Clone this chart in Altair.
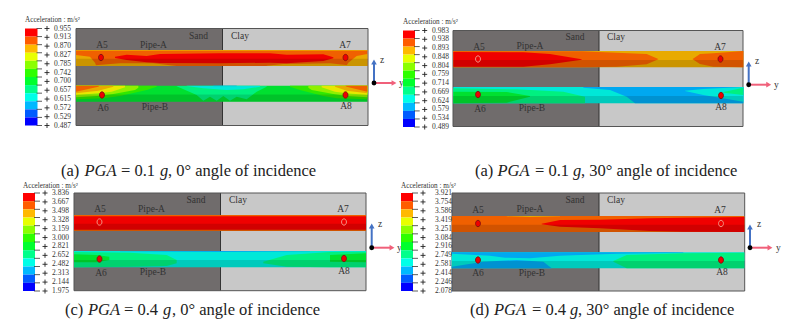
import altair as alt
import pandas as pd

FONT = "Liberation Serif"
R, O, G, Y, LG, G1, G2, SG, CY, LB, BL = ("#f00000", "#f06000", "#e8aa00", "#e8e800", "#90f000",
                                         "#30e800", "#00e030", "#00f080", "#00e8d8", "#00a8f0", "#0060f0")
LEGEND_COLORS = ["#ff0000", "#ff5c00", "#ffb900", "#e8ff00", "#8bff00", "#2eff00",
                 "#00ff2e", "#00ff8b", "#00ffe8", "#00b9ff", "#005cff", "#0000ff"]
PANEL_NAMES = ["a", "b", "c", "d"]
LEGEND_LABELS = {
    "a": ["0.955", "0.913", "0.870", "0.827", "0.785", "0.742", "0.700", "0.657", "0.615", "0.572", "0.529", "0.487"],
    "b": ["0.983", "0.938", "0.893", "0.848", "0.804", "0.759", "0.714", "0.669", "0.624", "0.579", "0.534", "0.489"],
    "c": ["3.836", "3.667", "3.498", "3.328", "3.159", "3.000", "2.821", "2.652", "2.482", "2.313", "2.144", "1.975"],
    "d": ["3.921", "3.754", "3.586", "3.419", "3.251", "3.084", "2.916", "2.749", "2.581", "2.414", "2.246", "2.078"],
}
# legend: x0, x1, y0, y1, plus x, label x, title y
LEGEND_GEOM = {"a": (25, 37.5, 28.5, 125.5, 47, 54, 20), "b": (403, 415, 30.5, 127, 424.7, 432, 22),
               "c": (23, 35, 193, 291, 45, 52, 185.5), "d": (401, 413, 193, 291, 423, 435, 185.5)}
# soil box: x0, divider, x1, y0, y1
BOX = {"a": (76, 222.5, 368, 28.5, 125.5), "b": (453, 599, 743, 30.5, 126.5),
       "c": (74, 220.5, 366, 193, 290.7), "d": (452, 599, 744.7, 193, 291)}
# pipe bands: A top, A bottom, B top, B bottom
PIPES = {"a": (50, 66, 85.7, 101.7), "b": (51, 67.3, 87, 103.3),
         "c": (215, 231, 251, 267.3), "d": (216, 232, 252.3, 268.3)}
ORIGIN = {"a": (70, 40), "b": (450, 40), "c": (70, 205), "d": (450, 205)}

# contour regions: colour and (position, top, bottom) read at 3x from the picture
SHAPES = {
    "a": [
        (O, [(18, 30, 78), (892, 30, 78)]),
        (G, [(18, 30, 32), (892, 30, 32)]),
        (G, [(18, 45, 78), (60, 50, 78), (75, 68, 78), (78, 76, 78)]),
        (G, [(892, 42, 78), (860, 48, 78), (835, 68, 78), (830, 76, 78)]),
        (G, [(75, 76, 78), (150, 70, 78), (250, 70, 78), (300, 76, 78), (320, 78, 78)]),
        (G, [(590, 77, 78), (640, 72, 78), (780, 70, 78), (835, 76, 78)]),
        (R, [(135, 50, 54), (170, 44, 60), (230, 48, 67), (270, 42, 69), (450, 40, 70), (600, 40, 68),
             (650, 44, 70), (760, 43, 63), (790, 52, 55)]),
        (G2, [(18, 137, 185), (892, 137, 185)]),
        (G1, [(18, 137, 178), (100, 137, 175), (150, 137, 168), (230, 137, 150), (260, 137, 140)]),
        (LG, [(18, 137, 172), (80, 137, 168), (130, 137, 162), (195, 137, 150), (205, 137, 143)]),
        (Y, [(18, 137, 165), (85, 137, 160), (125, 137, 155), (165, 137, 142)]),
        (G, [(18, 137, 160), (85, 137, 152), (130, 137, 140)]),
        (O, [(18, 137, 155), (85, 137, 140), (88, 137, 137)]),
        (G1, [(892, 137, 178), (800, 137, 175), (760, 137, 168), (690, 137, 150), (660, 137, 140)]),
        (LG, [(892, 137, 172), (830, 137, 168), (790, 137, 162), (725, 137, 150), (715, 137, 143)]),
        (Y, [(892, 137, 165), (830, 137, 160), (795, 137, 155), (755, 137, 142)]),
        (G, [(892, 137, 160), (830, 137, 152), (795, 137, 140)]),
        (O, [(892, 137, 155), (830, 137, 140), (826, 137, 137)]),
        (SG, [(320, 138, 139), (380, 138, 165), (400, 138, 182), (420, 138, 170), (440, 138, 182),
              (460, 138, 168), (480, 138, 182), (500, 138, 170), (530, 138, 178), (560, 138, 155), (590, 138, 140)]),
        (CY, [(350, 137, 138), (400, 137, 145), (470, 137, 150), (520, 137, 148), (570, 137, 140)]),
        (LB, [(430, 137, 138.5), (500, 137, 138.5)]),
    ],
    "b": [
        (G, [(10, 33, 82), (880, 33, 82)]),
        (O, [(10, 33, 82), (395, 34, 82), (500, 38, 80), (590, 42, 73), (625, 57, 58)]),
        (O, [(728, 57, 58), (750, 42, 72), (790, 40, 80), (880, 33, 82)]),
        (R, [(10, 36, 80), (220, 37, 80), (300, 42, 73), (395, 58, 59)]),
        (CY, [(10, 141, 190), (880, 141, 190)]),
        (SG, [(10, 145, 190), (200, 148, 190), (340, 155, 190), (405, 170, 190)]),
        (G2, [(10, 155, 190), (170, 156, 188), (240, 168, 170)]),
        (LB, [(400, 141, 143), (480, 141, 150), (530, 141, 170), (555, 141, 190), (880, 141, 190)]),
        (CY, [(705, 152, 153), (760, 147, 165), (880, 141, 185)]),
        (SG, [(820, 156, 158), (880, 143, 165)]),
    ],
    "c": [
        (O, [(12, 30, 78), (888, 30, 78)]),
        (R, [(12, 34, 74), (888, 34, 74)]),
        (CY, [(12, 138, 187), (888, 138, 187)]),
        (LB, [(150, 138, 139), (450, 138, 141), (720, 138, 139)]),
        (SG, [(12, 141, 187), (180, 143, 185), (290, 150, 183), (320, 165, 175)]),
        (SG, [(580, 170, 175), (650, 150, 185), (780, 141, 187), (888, 140, 187)]),
        (G2, [(12, 148, 172), (80, 150, 172), (118, 155, 165)]),
        (G2, [(780, 150, 170), (888, 145, 172)]),
    ],
    "d": [
        (O, [(5, 33, 81), (883, 33, 81)]),
        (G, [(170, 33, 34), (240, 33, 36), (330, 33, 34)]),
        (R, [(275, 56, 58), (330, 45, 65), (450, 44, 70), (600, 40, 78), (700, 38, 80), (883, 36, 81)]),
        (CY, [(5, 142, 190), (883, 142, 190)]),
        (LB, [(5, 142, 146), (120, 142, 152), (165, 142, 158), (240, 142, 160), (330, 142, 152), (500, 142, 146), (700, 142, 143)]),
        (LB, [(5, 185, 190), (100, 170, 190), (200, 165, 190), (280, 170, 190), (305, 190, 190)]),
        (SG, [(490, 168, 170), (530, 150, 190), (700, 145, 190), (883, 143, 190)]),
    ],
}
# sensors: x, y, ring colour
MARKERS = {
    "a": [(101, 57.5, "#801010"), (345.5, 57.5, "#801010"), (102, 95, "#801010"), (345.5, 95, "#801010")],
    "b": [(478, 59, "#f0a090"), (720.5, 59, "#801010"), (478, 94.5, "#801010"), (721, 95.5, "#801010")],
    "c": [(99.5, 222, "#f0a090"), (344, 222, "#f0a090"), (99.5, 259, "#801010"), (344, 258.5, "#801010")],
    "d": [(478, 223.5, "#801010"), (721, 223.5, "#f0a090"), (478, 260, "#801010"), (721, 260, "#801010")],
}
LABEL_NAMES = ["A5", "Pipe-A", "Sand", "Clay", "A7", "A6", "Pipe-B", "A8"]
LABEL_POS = {
    "a": [(102, 45), (153.5, 45), (198.5, 35.5), (240, 36), (345, 45), (103, 108), (155, 107), (346, 106)],
    "b": [(479, 47), (530, 46), (575, 37), (616, 37), (720, 47), (480, 109), (532, 108), (721, 107)],
    "c": [(100, 209), (151.5, 209), (196, 200), (238, 200), (343, 209), (101, 273), (153, 272), (344, 271)],
    "d": [(478, 210), (530, 209), (575, 200), (616, 200), (720, 210), (478, 273), (532, 273), (722, 272)],
}
# axis triad: origin x, origin y, arrow top, arrow tip, z text x, z text y, y text x
TRIAD = {"a": (374, 83, 60, 396, 380, 60, 399), "b": (748.7, 84.7, 62, 770.7, 755, 61, 774),
         "c": (371.7, 247.7, 224, 394, 378, 224, 397), "d": (750, 247.7, 225, 772, 757, 224, 776)}
CAPTIONS = [
    (176, [(61, "(a)", "normal"), (84.5, "PGA", "italic"), (121, "= 0.1", "normal"), (160, "g", "italic"),
           (168, ", 0° angle of incidence", "normal")]),
    (176, [(475, "(a)", "normal"), (497.5, "PGA", "italic"), (535, "= 0.1", "normal"), (573, "g", "italic"),
           (581, ", 30° angle of incidence", "normal")]),
    (315, [(65, "(c)", "normal"), (88, "PGA", "italic"), (124, "= 0.4", "normal"), (163, "g", "italic"),
           (172, ", 0° angle of incidence", "normal")]),
    (315, [(470, "(d)", "normal"), (494, "PGA", "italic"), (532, "= 0.4", "normal"), (570, "g", "italic"),
           (578, ", 30° angle of incidence", "normal")]),
]
ELLIPSE = "M0,-1 A0.78,1 0 1,1 0,1 A0.78,1 0 1,1 0,-1 Z"

xs = alt.Scale(domain=[8, 794], nice=False, zero=False)
ys = alt.Scale(domain=[324, 8], nice=False, zero=False)
X = alt.X("x:Q", scale=xs, axis=None)
Y_ = alt.Y("y:Q", scale=ys, axis=None)


def rect(x0, x1, y0, y1, color, opacity=1.0):
    return alt.Chart(pd.DataFrame([{"x": x0, "x2": x1, "y": y0, "y2": y1}])).mark_rect(
        color=color, opacity=opacity, strokeWidth=0).encode(X, alt.X2("x2:Q"), Y_, alt.Y2("y2:Q"))


def segs(rows, color, width=1.0):
    return alt.Chart(pd.DataFrame(rows, columns=["x", "x2", "y", "y2"])).mark_rule(
        color=color, strokeWidth=width).encode(X, alt.X2("x2:Q"), Y_, alt.Y2("y2:Q"))


def texts(rows, size, color="#333333", style="normal", align="center", baseline="middle"):
    return alt.Chart(pd.DataFrame(rows, columns=["x", "y", "t"])).mark_text(
        font=FONT, fontSize=size, color=color, fontStyle=style, align=align, baseline=baseline
    ).encode(X, Y_, text="t:N")


layers = []
for p in PANEL_NAMES:
    bx0, bdiv, bx1, by0, by1 = BOX[p]
    layers.append(rect(bx0, bdiv, by0, by1, "#706c6c"))
    layers.append(rect(bdiv, bx1, by0, by1, "#c8c8c8"))
    layers.append(segs([(bdiv, bdiv, by0, by1)], "#333333", 1))
    layers.append(alt.Chart(pd.DataFrame([{"x": bx0, "x2": bx1, "y": by0, "y2": by1}])).mark_rect(
        fill=None, stroke="#555555", strokeWidth=1).encode(X, alt.X2("x2:Q"), Y_, alt.Y2("y2:Q")))
    ox, oy = ORIGIN[p]
    for color, pts in SHAPES[p]:
        df = pd.DataFrame([{"x": ox + a / 3, "y": oy + b / 3, "y2": oy + c / 3} for a, b, c in pts])
        layers.append(alt.Chart(df).mark_area(color=color, opacity=1, interpolate="linear", strokeWidth=0)
                      .encode(X, Y_, alt.Y2("y2:Q")))
    at, ab, bt, bb = PIPES[p]
    layers.append(rect(bx0, bx1, at + 0.55 * (ab - at), ab, "#000000", 0.13))
    layers.append(rect(bx0, bx1, bt + 0.55 * (bb - bt), bb, "#000000", 0.13))

    layers.append(alt.Chart(pd.DataFrame(MARKERS[p], columns=["x", "y", "ring"])).mark_point(
        filled=True, shape=ELLIPSE, size=40, fill="#f00000", strokeWidth=0.9, opacity=1
    ).encode(X, Y_, stroke=alt.Stroke("ring:N", scale=None)))
    layers.append(texts([(x, y, n) for (x, y), n in zip(LABEL_POS[p], LABEL_NAMES)], 9.5))

    lx0, lx1, ly0, ly1, plus, labx, tity = LEGEND_GEOM[p]
    n = len(LEGEND_COLORS)
    bh = (ly1 - ly0) / n
    for i, c in enumerate(LEGEND_COLORS):
        layers.append(rect(lx0, lx1, ly0 + i * bh, ly0 + (i + 1) * bh, c))
    ly = [ly0 + i * (ly1 - ly0) / (n - 1) for i in range(n)]
    layers.append(segs([(lx1 - 1, plus - 5, ly0 + i * bh, ly0 + i * bh) for i in range(n + 1)], "#333333", 0.8))
    layers.append(segs([(plus - 2.5, plus + 2.5, v, v) for v in ly], "#222222", 0.9))
    layers.append(segs([(plus, plus, v - 2.5, v + 2.5) for v in ly], "#222222", 0.9))
    layers.append(texts([(labx, v, t) for v, t in zip(ly, LEGEND_LABELS[p])], 7.5, align="left"))
    layers.append(texts([(lx0, tity, "Acceleration : m/s²")], 7.2, align="left"))

    dx, dy, top, tip, zx, zy, yx = TRIAD[p]
    layers.append(segs([(dx, dx, dy, top + 3)], "#4472c4", 2))
    layers.append(segs([(dx, tip - 3, dy, dy)], "#f0607a", 2))
    layers.append(alt.Chart(pd.DataFrame([{"x": dx, "y": top + 2}])).mark_point(
        filled=True, shape="triangle-up", size=32, color="#4472c4", opacity=1).encode(X, Y_))
    layers.append(alt.Chart(pd.DataFrame([{"x": tip - 2, "y": dy}])).mark_point(
        filled=True, shape="triangle-right", size=32, color="#f0607a", opacity=1).encode(X, Y_))
    layers.append(alt.Chart(pd.DataFrame([{"x": dx, "y": dy}])).mark_point(
        filled=True, shape="circle", size=24, color="#000000", opacity=1).encode(X, Y_))
    layers.append(texts([(zx, zy, "z"), (yx, dy, "y")], 9.5, align="left"))

for base, parts in CAPTIONS:
    for x, t, st in parts:
        layers.append(texts([(x, base, t)], 16.5, color="#222222", style=st, align="left", baseline="alphabetic"))

chart = alt.layer(*layers).properties(
    width=786, height=316, padding=0, background="#ffffff", autosize=alt.AutoSizeParams(type="none")
).configure_view(strokeWidth=0)
chart.save("out.html", embed_options={"renderer": "svg", "actions": False})
